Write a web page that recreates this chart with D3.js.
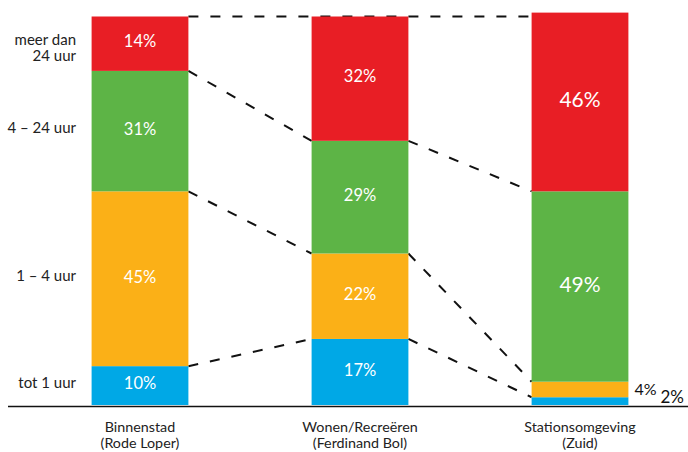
<!DOCTYPE html>
<html>
<head>
<meta charset="utf-8">
<script src="https://cdn.jsdelivr.net/npm/d3@7/dist/d3.min.js"></script>
<style>
  html, body { margin: 0; padding: 0; background: #fff; }
  svg { display: block; font-family: Lato, "Open Sans", sans-serif; }
</style>
</head>
<body>
<svg id="chart" width="688" height="452"></svg>
<script>
// Parkeerduur per gebied (aandeel in %)
const areas = ["Binnenstad|(Rode Loper)", "Wonen/Recreëren|(Ferdinand Bol)", "Stationsomgeving|(Zuid)"];
const durations = ["tot 1 uur", "1 – 4 uur", "4 – 24 uur", "meer dan|24 uur"];
const totEenUur   = [10, 17, 2];
const eenTotVier  = [45, 22, 4];
const vierTot24   = [31, 29, 49];
const meerDan24   = [14, 32, 46];
const colors = ["#00A8E6", "#FBB017", "#5DB446", "#E81E25"];

const series = [totEenUur, eenTotVier, vierTot24, meerDan24];
const rows = areas.map((a, i) => {
  const r = { area: a };
  durations.forEach((d, k) => { r[d] = series[k][i]; });
  return r;
});
const stacked = d3.stack().keys(durations)(rows);

const svg = d3.select("#chart");
const x = d3.scaleBand().domain(areas).range([30, 690]).paddingInner(0.56).paddingOuter(0.28);
const y = d3.scaleLinear().domain([0, 100]).range([405, 16.5]);

// dashed connectors between segment boundaries of neighbouring bars
const connectors = svg.append("g")
  .attr("stroke", "#111").attr("stroke-width", 2).attr("stroke-dasharray", "10,12").attr("fill", "none");
for (let k = 0; k < durations.length - 1; k++) {
  const s = stacked[k];
  for (let i = 0; i < areas.length - 1; i++) {
    connectors.append("line")
      .attr("x1", x(areas[i]) + x.bandwidth()).attr("y1", y(s[i][1]))
      .attr("x2", x(areas[i + 1])).attr("y2", y(s[i + 1][1]));
  }
}
// top line spans from the first bar to the last at the 100% level
connectors.append("line")
  .attr("x1", x(areas[0]) + x.bandwidth()).attr("y1", y(100))
  .attr("x2", x(areas[areas.length - 1])).attr("y2", y(100));

// stacked bars
stacked.forEach((s, k) => {
  svg.append("g").attr("fill", colors[k])
    .selectAll("rect").data(s).join("rect")
    .attr("x", d => x(d.data.area))
    .attr("width", x.bandwidth())
    .attr("y", d => y(d[1]))
    .attr("height", d => y(d[0]) - y(d[1]));
});

// value labels
stacked.forEach((s, k) => {
  s.forEach((d, i) => {
    const v = d[1] - d[0];
    const mid = (y(d[0]) + y(d[1])) / 2;
    if (v >= 10) {
      svg.append("text")
        .attr("x", x(d.data.area) + x.bandwidth() / 2)
        .attr("y", mid - 2)
        .attr("dy", "0.35em")
        .attr("text-anchor", "middle")
        .attr("fill", "#fff")
        .attr("font-size", v >= 40 && i === 2 ? 21 : 16.5)
        .text(v + "%");
    } else {
      // small segments are labelled outside, to the right of the bar
      svg.append("text")
        .attr("x", x(d.data.area) + x.bandwidth() + (k === 0 ? 32 : 6))
        .attr("y", k === 0 ? y(0) - 2 : mid)
        .attr("dy", k === 0 ? 0 : "0.35em")
        .attr("fill", "#111")
        .attr("font-size", k === 0 ? 17 : 16)
        .text(v + "%");
    }
  });
});

// baseline
svg.append("line")
  .attr("x1", 8).attr("x2", 688)
  .attr("y1", y(0) + 1.5).attr("y2", y(0) + 1.5)
  .attr("stroke", "#111").attr("stroke-width", 1.6);

// duration labels, aligned with the first bar's segments
stacked.forEach((s, k) => {
  const d = s[0];
  const mid = (y(d[0]) + y(d[1])) / 2;
  const lines = durations[k].split("|");
  const t = svg.append("text")
    .attr("text-anchor", "end")
    .attr("font-size", 15)
    .attr("fill", "#222");
  lines.forEach((ln, j) => {
    t.append("tspan")
      .attr("x", 76)
      .attr("y", mid + (j - (lines.length - 1) / 2) * 16.5 + (lines.length > 1 ? 4 : -3))
      .attr("dy", "0.35em")
      .text(ln);
  });
});

// area labels under the bars
areas.forEach(a => {
  const t = svg.append("text")
    .attr("text-anchor", "middle")
    .attr("font-size", 14.3)
    .attr("fill", "#222");
  a.split("|").forEach((ln, j) => {
    t.append("tspan")
      .attr("x", x(a) + x.bandwidth() / 2)
      .attr("y", 432 + j * 16)
      .text(ln);
  });
});
</script>
</body>
</html>
